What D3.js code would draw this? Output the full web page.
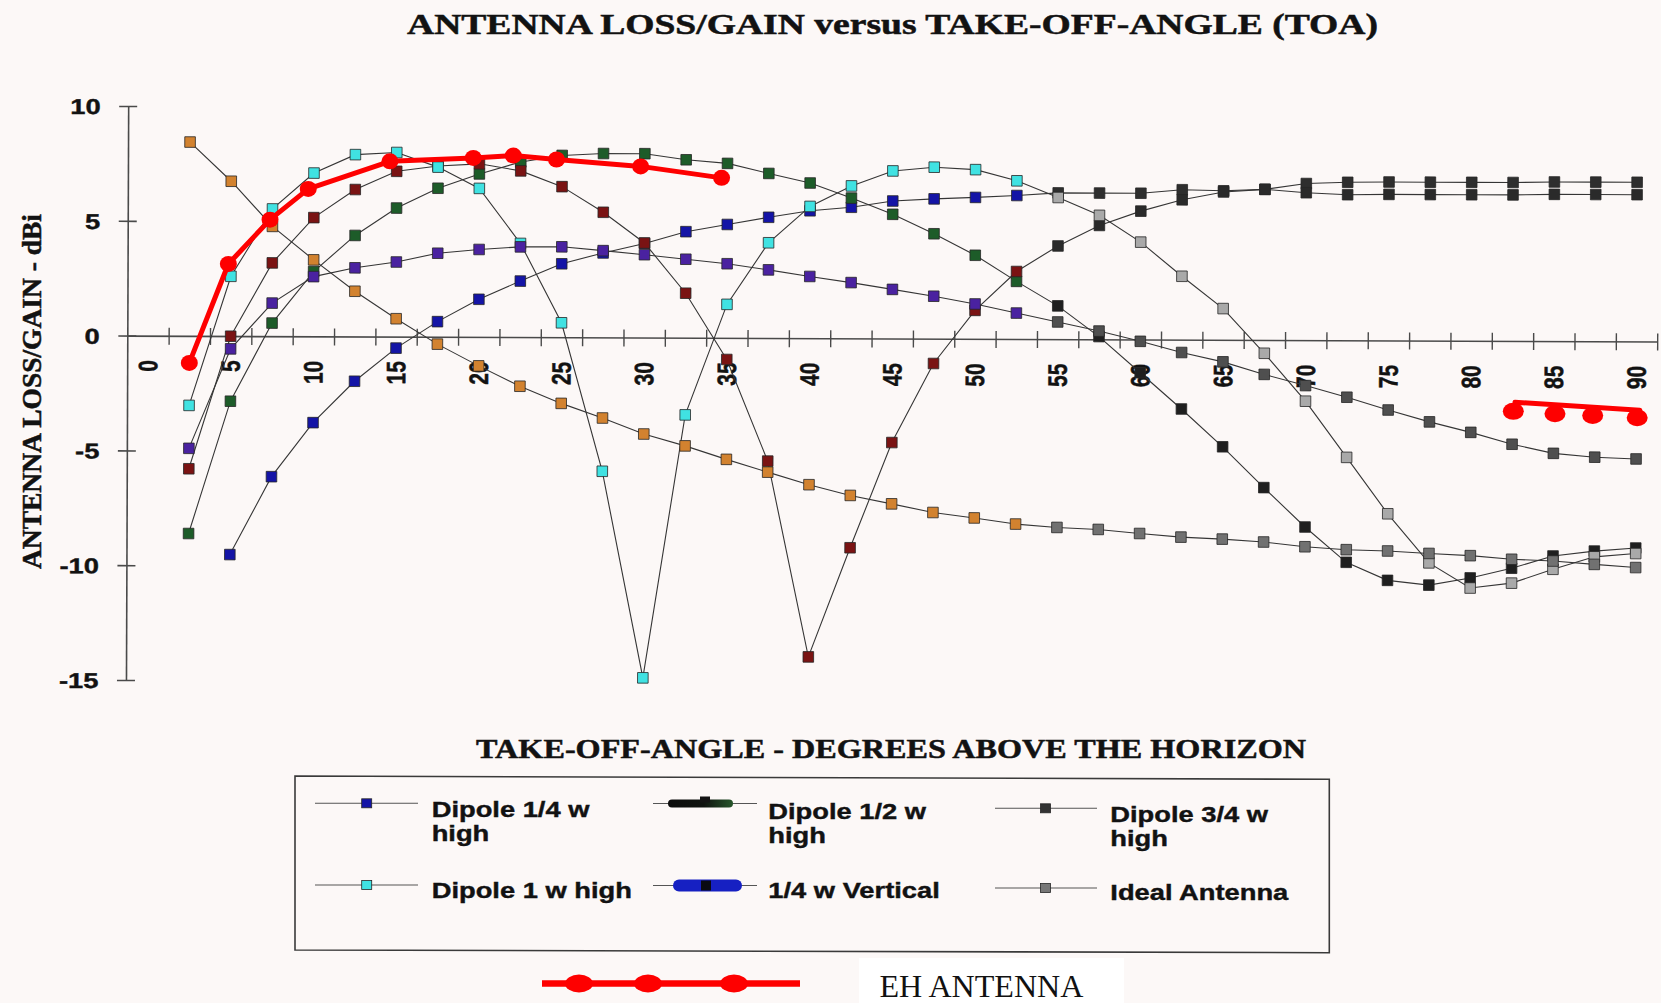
<!DOCTYPE html>
<html>
<head>
<meta charset="utf-8">
<script src="https://cdn.jsdelivr.net/npm/d3@7"></script>
<style>
  html, body { margin: 0; padding: 0; background: #fcf8f7; }
  svg { display: block; }
</style>
</head>
<body>
<svg id="chart" width="1661" height="1003"></svg>
<script>
// ---------------- DATA ----------------
const angles = [2.5, 5, 7.5, 10, 12.5, 15, 17.5, 20, 22.5, 25, 27.5, 30, 32.5, 35, 37.5, 40, 42.5, 45,
                47.5, 50, 52.5, 55, 57.5, 60, 62.5, 65, 67.5, 70, 72.5, 75, 77.5, 80, 82.5, 85, 87.5, 90];
const tickLabels = [0, 5, 10, 15, 20, 25, 30, 35, 40, 45, 50, 55, 60, 65, 70, 75, 80, 85, 90];
const yTicks = [-15, -10, -5, 0, 5, 10];

const dipoleQuarter = [null, -9.52, -6.12, -3.76, -1.95, -0.50, 0.66, 1.64, 2.44, 3.20, 3.68, 4.10, 4.62, 4.94,
  5.26, 5.55, 5.71, 5.99, 6.09, 6.16, 6.25, 6.37, 6.37, 6.37, 6.53, 6.49, 6.56, 6.82, 6.88, 6.90, 6.90, 6.90,
  6.90, 6.93, 6.93, 6.93];
const dipoleHalf = [-8.61, -2.84, 0.57, 2.82, 4.40, 5.60, 6.47, 7.10, 7.63, 7.92, 8.01, 8.01, 7.75, 7.60, 7.17,
  6.76, 6.11, 5.41, 4.57, 3.64, 2.51, 1.45, 0.12, -1.45, -3.02, -4.66, -6.43, -8.14, -9.67, -10.45, -10.65,
  -10.33, -9.90, -9.36, -9.14, -9.00];
const dipoleThreeQuarter = [-5.79, -0.01, 3.19, 5.17, 6.40, 7.20, 7.44, 7.54, 7.24, 6.56, 5.45, 4.12, 1.94,
  -0.94, -5.36, -13.88, -9.12, -4.53, -1.08, 1.24, 2.94, 4.06, 4.96, 5.59, 6.09, 6.44, 6.56, 6.42, 6.34, 6.36,
  6.36, 6.36, 6.36, 6.39, 6.39, 6.39];
const dipoleOne = [-3.03, 2.60, 5.54, 7.11, 7.92, 8.02, 7.39, 6.47, 4.08, 0.63, -5.83, -14.82, -3.36, 1.46,
  4.15, 5.74, 6.64, 7.30, 7.47, 7.37, 6.89, 6.17, 5.40, 4.24, 2.76, 1.36, -0.58, -2.66, -5.10, -7.55, -9.68,
  -10.77, -10.55, -9.94, -9.39, -9.24];
const quarterVertical = [-4.90, -0.56, 1.44, 2.60, 2.99, 3.25, 3.64, 3.81, 3.93, 3.94, 3.78, 3.61, 3.42, 3.23,
  2.97, 2.69, 2.43, 2.14, 1.85, 1.52, 1.13, 0.75, 0.36, -0.08, -0.56, -0.96, -1.50, -1.98, -2.48, -3.03, -3.54,
  -3.99, -4.50, -4.89, -5.05, -5.12];
const idealAntenna = [8.44, 6.74, 4.78, 3.33, 1.97, 0.78, -0.32, -1.26, -2.14, -2.88, -3.51, -4.20, -4.71,
  -5.29, -5.84, -6.38, -6.84, -7.20, -7.57, -7.80, -8.06, -8.20, -8.28, -8.45, -8.60, -8.68, -8.80, -9.00,
  -9.12, -9.17, -9.27, -9.36, -9.51, -9.58, -9.72, -9.85];

// hand-drawn EH antenna overlay
const ehAngles = [2.5, 4.86, 7.38, 9.69, 14.63, 19.67, 22.09, 24.7, 29.79, 34.68];
const ehGain = [-1.19, 3.12, 5.05, 6.39, 7.59, 7.74, 7.84, 7.67, 7.37, 6.87];
const ehHighAngles = [82.55, 85.07, 87.35, 90.04];
const ehHighGain = [-3.30, -3.40, -3.48, -3.58];
const ehHighLineAngles = [82.65, 90.2];
const ehHighLineGain = [-2.90, -3.25];

const seriesNames = ["Dipole 1/4 w high", "Dipole 1/2 w high", "Dipole 3/4 w high",
                     "Dipole 1 w high", "1/4 w Vertical", "Ideal Antenna"];
const legendLines = [["Dipole 1/4 w", "high"], ["Dipole 1/2 w", "high"], ["Dipole 3/4 w", "high"],
                     ["Dipole 1 w high"], ["1/4 w Vertical"], ["Ideal Antenna"]];

// ---------------- STYLE ----------------
const seriesValues = [dipoleQuarter, dipoleHalf, dipoleThreeQuarter, dipoleOne, quarterVertical, idealAntenna];
const seriesFill = ["#1414a6", "#1d5c29", "#7a1313", "#40e2e2", "#4a22a0", "#d2822f"];
const seriesGray = ["#2e2e2e", "#1f1f1f", "#2a2a2a", "#a9a9a9", "#4f4f4f", "#717171"];
const GRAY_FROM = 55;       // right part of the scan is greyscale
const SX = 1.27;            // horizontal stretch of the scanned lettering
const TILT = 0.22;          // scan rotation
const AXIS = "#4a4a4a";
const RED = "#fe0000";
const INK = "#121212";
const SANS = "'Liberation Sans', Arial, sans-serif";
const SERIF = "'Liberation Serif', 'Times New Roman', serif";

const svg = d3.select("#chart");
svg.append("rect").attr("width", 1661).attr("height", 1003).attr("fill", "#fcf8f7");
svg.append("rect").attr("x", 859).attr("y", 958).attr("width", 265).attr("height", 45).attr("fill", "#ffffff");

const x = d3.scaleLinear().domain([-1.25, 91.25]).range([127.3, 1657.2]);
const y = d3.scaleLinear().domain([-15, 10]).range([680, 106]);

function ink(sel, w) { return sel.attr("fill", INK).attr("stroke", INK).attr("stroke-width", w); }

// ---------------- TITLES ----------------
ink(svg.append("text").attr("x", 407).attr("y", 33.5)
  .attr("font-family", SERIF).attr("font-weight", "bold").attr("font-size", 30)
  .attr("textLength", 971).attr("lengthAdjust", "spacingAndGlyphs")
  .text("ANTENNA LOSS/GAIN versus TAKE-OFF-ANGLE (TOA)"), 0.5);

ink(svg.append("text").attr("transform", "translate(32.5,391.5) rotate(-90)")
  .attr("text-anchor", "middle").attr("dy", "0.33em")
  .attr("font-family", SERIF).attr("font-weight", "bold").attr("font-size", 27)
  .attr("textLength", 355).attr("lengthAdjust", "spacingAndGlyphs")
  .text("ANTENNA LOSS/GAIN - dBi"), 0.5);

ink(svg.append("text").attr("x", 476).attr("y", 758)
  .attr("font-family", SERIF).attr("font-weight", "bold").attr("font-size", 27)
  .attr("textLength", 830).attr("lengthAdjust", "spacingAndGlyphs")
  .text("TAKE-OFF-ANGLE - DEGREES ABOVE THE HORIZON"), 0.5);

// ---------------- PLOT ----------------
const plot = svg.append("g").attr("transform", `rotate(${TILT},${x(-1.25)},${y(0)})`);

const gy = plot.append("g").attr("transform", `translate(${x(-1.25)},0)`)
  .call(d3.axisLeft(y).tickValues(yTicks).tickSizeInner(9).tickSizeOuter(0).tickFormat(d => String(d)));
gy.select(".domain").attr("stroke", AXIS).attr("stroke-width", 1.6);
gy.selectAll(".tick line").attr("x1", 9).attr("stroke", AXIS).attr("stroke-width", 1.6);
ink(gy.selectAll(".tick text").attr("x", 0).attr("dy", "0.36em")
  .attr("transform", `translate(-27.5,0) scale(${SX},1)`)
  .attr("font-family", SANS).attr("font-weight", "bold").attr("font-size", 21.5), 0.4);

const boundaries = d3.range(angles.length + 1).map(k => 1.25 + 2.5 * k);
const gx = plot.append("g").attr("transform", `translate(0,${y(0)})`)
  .call(d3.axisBottom(x).tickValues(boundaries).tickSizeInner(9).tickSizeOuter(0).tickFormat(""));
gx.select(".domain").attr("stroke", AXIS).attr("stroke-width", 1.6);
gx.selectAll(".tick line").attr("y1", -8).attr("stroke", AXIS).attr("stroke-width", 1.4);

ink(plot.append("g").selectAll("text").data(tickLabels).join("text")
  .attr("transform", d => `translate(${x(d)},360) scale(${SX},1) rotate(-90)`)
  .attr("text-anchor", "end").attr("dy", "0.35em")
  .attr("font-family", SANS).attr("font-weight", "bold").attr("font-size", 21)
  .text(d => d), 0.4);

const line = d3.line().x(d => x(d.a)).y(d => y(d.v));
seriesValues.forEach((vals, si) => {
  const pts = angles.map((a, i) => ({ a, v: vals[i] })).filter(d => d.v !== null);
  plot.append("path").datum(pts).attr("d", line)
    .attr("fill", "none").attr("stroke", "#353535").attr("stroke-width", 1.1);
  plot.append("g").selectAll("rect").data(pts).join("rect")
    .attr("x", d => x(d.a) - 5.3).attr("y", d => y(d.v) - 5.3)
    .attr("width", 10.6).attr("height", 10.6)
    .attr("fill", d => d.a >= GRAY_FROM ? seriesGray[si] : seriesFill[si])
    .attr("stroke", "#262626").attr("stroke-width", 0.8);
});

// ---------------- EH OVERLAY ----------------
const red = svg.append("g");
const ehPts = ehAngles.map((a, i) => [a, ehGain[i]]);
const redLine = d3.line().x(d => x(d[0])).y(d => y(d[1]));
red.append("path").datum(ehPts).attr("d", redLine)
  .attr("fill", "none").attr("stroke", RED).attr("stroke-width", 5)
  .attr("stroke-linejoin", "round").attr("stroke-linecap", "round");
red.selectAll("ellipse.lo").data(ehPts).join("ellipse").attr("class", "lo")
  .attr("cx", d => x(d[0])).attr("cy", d => y(d[1])).attr("rx", 8.5).attr("ry", 8)
  .attr("fill", RED);
const ehHiLine = ehHighLineAngles.map((a, i) => [a, ehHighLineGain[i]]);
red.append("path").datum(ehHiLine).attr("d", redLine)
  .attr("fill", "none").attr("stroke", RED).attr("stroke-width", 5).attr("stroke-linecap", "round");
red.selectAll("ellipse.hi").data(ehHighAngles.map((a, i) => [a, ehHighGain[i]])).join("ellipse")
  .attr("class", "hi")
  .attr("cx", d => x(d[0])).attr("cy", d => y(d[1])).attr("rx", 10.5).attr("ry", 8.5)
  .attr("fill", RED);

// ---------------- LEGEND ----------------
const lg = svg.append("g");
lg.append("polygon").attr("points", "295,776 1329.3,779.3 1329.3,952.7 295,950")
  .attr("fill", "none").attr("stroke", "#3a3a3a").attr("stroke-width", 1.6);

const legendCols = [
  { lx1: 315, lx2: 418, mx: 366.7, tx: 431.7 },
  { lx1: 653, lx2: 757, mx: 705, tx: 768.3 },
  { lx1: 995, lx2: 1097, mx: 1045.5, tx: 1110.3 }
];
const legendLineY = [[803.3, 803.5, 808.3], [885, 885.5, 888]];
const legendTextY = [[817.3, 819.3, 821.7], [897.7, 898.3, 900]];
const legendMarker = ["#1414a6", null, "#333333", "#40e2e2", null, "#777777"];

const defs = svg.append("defs");
const grad = defs.append("linearGradient").attr("id", "halfGrad").attr("x1", "0%").attr("x2", "100%");
grad.append("stop").attr("offset", "0%").attr("stop-color", "#0c0c0c");
grad.append("stop").attr("offset", "55%").attr("stop-color", "#101410");
grad.append("stop").attr("offset", "100%").attr("stop-color", "#27562b");

seriesNames.forEach((name, i) => {
  const col = i % 3, row = Math.floor(i / 3);
  const c = legendCols[col];
  const ly = legendLineY[row][col];
  lg.append("line").attr("x1", c.lx1).attr("x2", c.lx2).attr("y1", ly).attr("y2", ly)
    .attr("stroke", "#555").attr("stroke-width", 1.1);
  if (i === 1) {
    lg.append("rect").attr("x", 668).attr("y", ly - 4).attr("width", 65).attr("height", 8)
      .attr("rx", 4).attr("fill", "url(#halfGrad)");
    lg.append("rect").attr("x", 700).attr("y", ly - 7).attr("width", 10).attr("height", 6).attr("fill", "#141414");
  } else if (i === 4) {
    lg.append("rect").attr("x", 673).attr("y", ly - 6).attr("width", 69).attr("height", 12)
      .attr("rx", 6).attr("fill", "#1620c2");
    lg.append("rect").attr("x", 701).attr("y", ly - 5).attr("width", 10).attr("height", 10).attr("fill", "#0a0a12");
  } else {
    lg.append("rect").attr("x", c.mx - 5).attr("y", ly - 4.5).attr("width", 10).attr("height", 9)
      .attr("fill", legendMarker[i]).attr("stroke", "#262626").attr("stroke-width", 0.8);
  }
  legendLines[i].forEach((t, k) => {
    ink(lg.append("text").attr("transform", `translate(${c.tx},${legendTextY[row][col] + k * 24}) scale(${SX},1)`)
      .attr("font-family", SANS).attr("font-weight", "bold").attr("font-size", 21.5)
      .text(t), 0.4);
  });
});

// EH legend entry
const ehLegX = [579, 648, 734];
svg.append("line").attr("x1", 542).attr("x2", 800).attr("y1", 983.5).attr("y2", 983.5)
  .attr("stroke", RED).attr("stroke-width", 6.5);
svg.append("g").selectAll("ellipse").data(ehLegX).join("ellipse")
  .attr("cx", d => d).attr("cy", 983.5).attr("rx", 14).attr("ry", 9).attr("fill", RED);
svg.append("text").attr("x", 879.4).attr("y", 996.7)
  .attr("font-family", SERIF).attr("font-size", 32.5).attr("fill", "#111")
  .attr("textLength", 204).attr("lengthAdjust", "spacingAndGlyphs")
  .text("EH ANTENNA");
</script>
</body>
</html>
